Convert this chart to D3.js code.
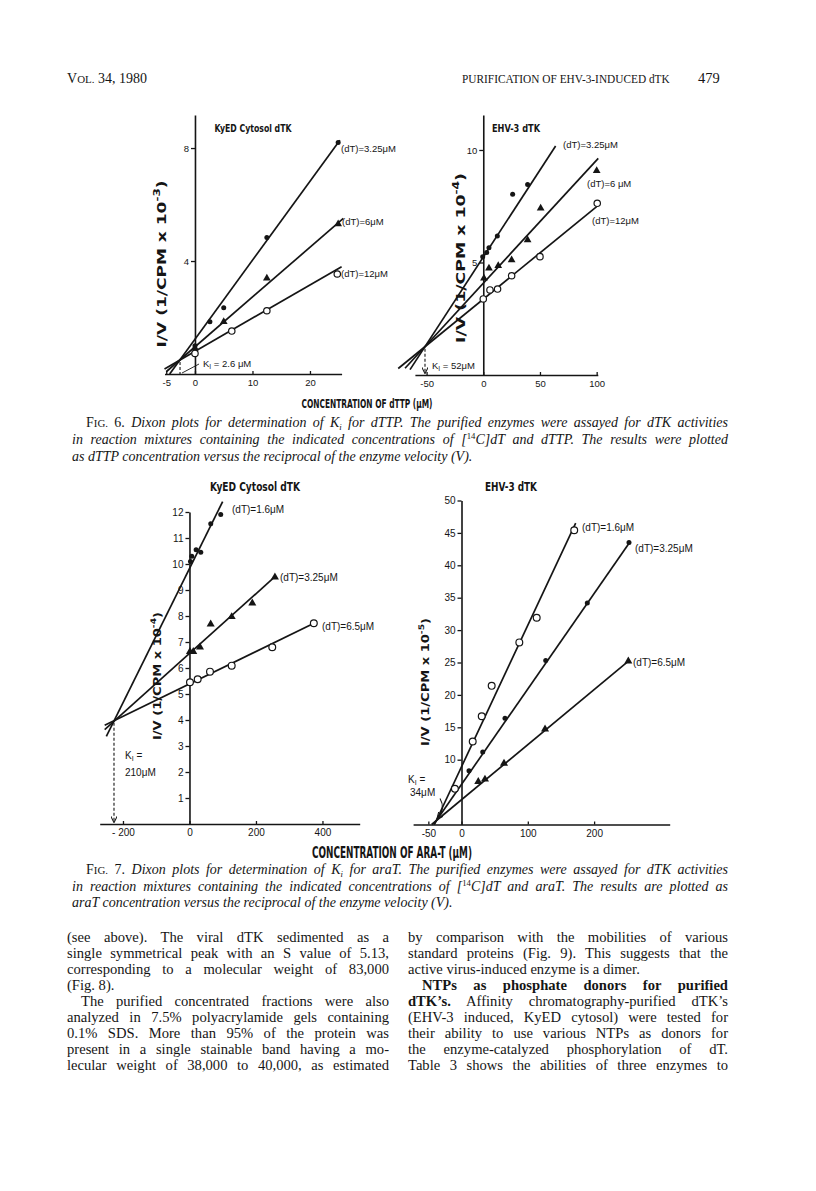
<!DOCTYPE html>
<html>
<head>
<meta charset="utf-8">
<script src="https://cdn.jsdelivr.net/npm/d3@7/dist/d3.min.js"></script>
<style>
  body { margin: 0; background: #fff; }
  svg { display: block; }
</style>
</head>
<body>
<script>
// values (J. Virol. 34, p.479), Dixon plots

// Fig. 6, KyED cytosol dTK : dTTP (uM) vs 1/V (1/CPM x 10^-3)
var f6aClosed = [[0, 1.0], [2.6, 1.85], [5, 2.35], [12.5, 4.83], [24.9, 8.2]];
var f6aTri = [[0, 0.92], [5, 1.85], [12.5, 3.39], [24.9, 5.31]];
var f6aOpen = [[0, 0.73], [6.4, 1.52], [12.5, 2.24], [24.75, 3.54]];
var f6aFits = [[-4.4, 0, 25.2, 8.28], [-5, 0.08, 25.8, 5.51], [-5.3, 0.18, 25.5, 3.8]];
var f6aKi = [-2.6, 0.5];
var f6aXTicks = [-5, 0, 10, 20];
var f6aXLabels = ["-5", "0", "10", "20"];
var f6aYTicks = [4, 8];
var f6aYLabels = ["4", "8"];
var f6aNames = ["(dT)=3.25\u03bcM", "(dT)=6\u03bcM", "(dT)=12\u03bcM"];

// Fig. 6, EHV-3 dTK : dTTP (uM) vs 1/V (1/CPM x 10^-4)
var f6bClosed = [[-0.5, 5.26], [3, 5.44], [5, 5.66], [12.4, 6.18], [25.9, 8.03], [39.1, 8.47]];
var f6bTri = [[0.6, 4.3], [5, 4.74], [13.2, 4.86], [25, 5.11], [39.1, 6.0], [50.6, 7.41], [100, 9.08]];
var f6bOpen = [[0, 3.38], [5.9, 3.78], [12.6, 3.82], [25, 4.41], [50, 5.26], [100.5, 7.63]];
var f6bFits = [[-64.6, 0.24, 63.8, 10.18], [-69, 0.3, 101.4, 9.63], [-75, 0.29, 100, 7.48]];
var f6bKi = [-51.4, 1.26];
var f6bXTicks = [-50, 0, 50, 100];
var f6bXLabels = ["-50", "0", "50", "100"];
var f6bYTicks = [5, 10];
var f6bYLabels = ["5", "10"];
var f6bNames = ["(dT)=3.25\u03bcM", "(dT)=6 \u03bcM", "(dT)=12\u03bcM"];

// Fig. 7, KyED cytosol dTK : araT (uM) vs 1/V (1/CPM x 10^-4)
var f7aClosed = [[3, 10.1], [7, 10.3], [20, 10.55], [34, 10.45], [64, 11.55], [94, 11.9]];
var f7aTri = [[1.5, 6.63], [11.4, 6.63], [31.6, 6.8], [63.8, 7.69], [127, 7.97], [189, 8.49], [257, 9.49]];
var f7aOpen = [[1.5, 5.45], [24.7, 5.57], [61.7, 5.86], [127, 6.09], [249, 6.8], [374, 7.72]];
var f7aFits = [[-250, 3.37, 99.8, 12.4], [-255, 3.63, 257, 9.51], [-255, 3.8, 374.4, 7.72]];
var f7aKi = [-227, 3.97];
var f7aXTicks = [-200, 0, 200, 400];
var f7aXLabels = ["- 200", "0", "200", "400"];
var f7aYTicks = [1, 2, 3, 4, 5, 6, 7, 8, 9, 10, 11, 12];
var f7aYLabels = ["1", "2", "3", "4", "5", "6", "7", "8", "9", "10", "11", "12"];
var f7aNames = ["(dT)=1.6\u03bcM", "(dT)=3.25\u03bcM", "(dT)=6.5\u03bcM"];

// Fig. 7, EHV-3 dTK : araT (uM) vs 1/V (1/CPM x 10^-5)
var f7bOpen = [[-10, 5.5], [16.9, 12.8], [30.5, 16.7], [45.5, 21.4], [87.2, 28.1], [113.4, 31.9], [170, 45.4]];
var f7bClosed = [[11.3, 8.3], [32, 11.2], [65.6, 16.4], [127, 25.3], [189.7, 34.2], [252.6, 43.5]];
var f7bTri = [[25.3, 6.6], [35.4, 6.98], [64.1, 9.44], [126, 14.7], [251.6, 25.2]];
var f7bFits = [[-40.8, 0, 172.2, 46.5], [-42, 0, 254, 43.6], [-45, 0, 254, 25.4]];
var f7bKi = [-38, 0.6];
var f7bXTicks = [-50, 0, 100, 200];
var f7bXLabels = ["-50", "0", "100", "200"];
var f7bYTicks = [10, 15, 20, 25, 30, 35, 40, 45, 50];
var f7bYLabels = ["10", "15", "20", "25", "30", "35", "40", "45", "50"];
var f7bNames = ["(dT)=1.6\u03bcM", "(dT)=3.25\u03bcM", "(dT)=6.5\u03bcM"];

var ink = "#151515";
var serif = "'Liberation Serif', 'DejaVu Serif', serif";
var sans = "'Liberation Sans', Arial, sans-serif";
var narrow = "'Liberation Sans Narrow', 'DejaVu Sans Condensed', 'Liberation Sans', sans-serif";

var svg = d3.select("body").append("svg")
  .attr("width", 816)
  .attr("height", 1191);

svg.append("rect").attr("width", 816).attr("height", 1191).attr("fill", "#fff");

svg.append("defs").append("marker")
  .attr("id", "arr")
  .attr("viewBox", "0 0 10 10")
  .attr("refX", 9).attr("refY", 5)
  .attr("markerWidth", 6).attr("markerHeight", 6)
  .attr("orient", "auto")
  .append("path")
  .attr("d", "M0,0 L10,5 L0,10")
  .attr("fill", "none")
  .attr("stroke", ink)
  .attr("stroke-width", 1.6);

// bold condensed label, squeezed to the width seen on the scan
function squeezed(parent, txt, cx, cy, size, width, sup) {
  var t = parent.append("text")
    .attr("x", cx).attr("y", cy)
    .attr("text-anchor", "middle")
    .attr("font-family", narrow)
    .attr("font-weight", "bold")
    .attr("font-size", size)
    .attr("fill", ink);
  t.append("tspan").text(txt);
  if (sup) {
    t.append("tspan").attr("dy", -size * 0.4).attr("font-size", size * 0.7).text(sup);
    t.append("tspan").attr("dy", size * 0.4).text(")");
  }
  t.attr("textLength", width).attr("lengthAdjust", "spacingAndGlyphs");
  return t;
}

function drawPanel(p) {
  var x = d3.scaleLinear().domain(p.xDomain).range(p.xRange);
  var y = d3.scaleLinear().domain(p.yDomain).range(p.yRange);
  var g = svg.append("g");

  var xa = g.append("g")
    .attr("transform", "translate(0," + y(0) + ")")
    .call(d3.axisBottom(x).tickValues(p.xTicks).tickSize(-3).tickSizeOuter(0).tickPadding(p.xPad)
      .tickFormat(function(d, i) { return p.xLabels[i]; }));
  var ya = g.append("g")
    .attr("transform", "translate(" + x(0) + ",0)")
    .call(d3.axisLeft(y).tickValues(p.yTicks).tickSize(4).tickSizeOuter(0).tickPadding(2)
      .tickFormat(function(d, i) { return p.yLabels[i]; }));
  [xa, ya].forEach(function(a) {
    a.attr("font-family", sans).attr("font-size", p.tickFont);
    a.select(".domain").attr("stroke", ink).attr("stroke-width", 1.6);
    a.selectAll(".tick line").attr("stroke", ink).attr("stroke-width", 1.3);
    a.selectAll(".tick text").attr("fill", ink);
  });

  // Ki construction
  if (p.kiDashed) {
    g.append("line")
      .attr("x1", x(p.ki[0])).attr("y1", y(p.ki[1]) + 2)
      .attr("x2", x(p.ki[0])).attr("y2", y(0) - (p.kiArrow ? 2 : 0))
      .attr("stroke", ink).attr("stroke-width", 1.1)
      .attr("stroke-dasharray", "3,2")
      .attr("marker-end", p.kiArrow ? "url(#arr)" : null);
  }

  g.selectAll(null).data(p.fits).enter().append("line")
    .attr("x1", function(d) { return x(d[0]); })
    .attr("y1", function(d) { return y(d[1]); })
    .attr("x2", function(d) { return x(d[2]); })
    .attr("y2", function(d) { return y(d[3]); })
    .attr("stroke", ink)
    .attr("stroke-width", 1.7);

  p.series.forEach(function(s) {
    var sel = g.selectAll(null).data(s.pts).enter();
    if (s.kind === "tri") {
      sel.append("path")
        .attr("d", d3.symbol(d3.symbolTriangle, p.triSize))
        .attr("transform", function(d) { return "translate(" + x(d[0]) + "," + y(d[1]) + ")"; })
        .attr("fill", ink);
    } else {
      sel.append("circle")
        .attr("cx", function(d) { return x(d[0]); })
        .attr("cy", function(d) { return y(d[1]); })
        .attr("r", s.kind === "open" ? p.openR : p.dotR)
        .attr("fill", s.kind === "open" ? "#fff" : ink)
        .attr("stroke", ink)
        .attr("stroke-width", s.kind === "open" ? 1.2 : 0);
    }
  });

  p.names.forEach(function(n, i) {
    g.append("text")
      .attr("x", p.nameAt[i][0]).attr("y", p.nameAt[i][1])
      .attr("font-family", sans).attr("font-size", p.nameFont)
      .attr("fill", ink)
      .text(n);
  });

  p.kiText.forEach(function(k) {
    var t = g.append("text")
      .attr("x", k.at[0]).attr("y", k.at[1])
      .attr("font-family", sans).attr("font-size", p.nameFont)
      .attr("fill", ink);
    if (k.sub) {
      t.append("tspan").text("K");
      t.append("tspan").attr("dy", 2).attr("font-size", p.nameFont * 0.7).text("I");
      t.append("tspan").attr("dy", -2).text(k.txt);
    } else {
      t.text(k.txt);
    }
  });

  squeezed(g, p.title, p.titleAt[0], p.titleAt[1], p.titleFont, p.titleW);

  var yl = squeezed(g, "I/V (1/CPM x 10", p.yLabAt[0], p.yLabAt[1], p.yLabFont, p.yLabW, p.yLabSup);
  yl.attr("transform", "rotate(-90," + p.yLabAt[0] + "," + p.yLabAt[1] + ")")
    .attr("dominant-baseline", "middle");

  return { x: x, y: y, g: g };
}

var pa = drawPanel({
  xDomain: [-5.3, 25.5], xRange: [164.5, 341.6], yDomain: [0, 9.17], yRange: [374, 115],
  xTicks: f6aXTicks, xLabels: f6aXLabels, yTicks: f6aYTicks, yLabels: f6aYLabels,
  xPad: 5, tickFont: 9.5, fits: f6aFits, ki: f6aKi, kiDashed: true, kiArrow: false,
  series: [{ pts: f6aClosed, kind: "dot" }, { pts: f6aTri, kind: "tri" }, { pts: f6aOpen, kind: "open" }],
  dotR: 2.5, openR: 3.2, triSize: 26,
  names: f6aNames, nameAt: [[341, 152], [342, 225], [341, 277]], nameFont: 9.5,
  kiText: [{ txt: " = 2.6 \u03bcM", sub: true, at: [203, 367] }],
  title: "KyED Cytosol dTK", titleAt: [253, 132], titleFont: 11, titleW: 77,
  yLabAt: [162, 264], yLabFont: 12.5, yLabW: 167, yLabSup: "-3"
});
// short leader from the Ki foot to its label
pa.g.append("line")
  .attr("x1", pa.x(f6aKi[0]) + 2).attr("y1", pa.y(0) - 1)
  .attr("x2", pa.x(f6aKi[0]) + 19).attr("y2", pa.y(0) - 10)
  .attr("stroke", ink).attr("stroke-width", 0.9);

drawPanel({
  xDomain: [-60.3, 101], xRange: [414.9, 597.8], yDomain: [0, 11.55], yRange: [375, 115.1],
  xTicks: f6bXTicks, xLabels: f6bXLabels, yTicks: f6bYTicks, yLabels: f6bYLabels,
  xPad: 5, tickFont: 9.5, fits: f6bFits, ki: f6bKi, kiDashed: true, kiArrow: true,
  series: [{ pts: f6bClosed, kind: "dot" }, { pts: f6bTri, kind: "tri" }, { pts: f6bOpen, kind: "open" }],
  dotR: 2.5, openR: 3.2, triSize: 26,
  names: f6bNames, nameAt: [[563, 148], [587, 187], [592, 224]], nameFont: 9.5,
  kiText: [{ txt: " = 52\u03bcM", sub: true, at: [432, 369] }],
  title: "EHV-3 dTK", titleAt: [516, 132], titleFont: 11, titleW: 48,
  yLabAt: [461, 258], yLabFont: 12.5, yLabW: 170, yLabSup: "-4"
});

drawPanel({
  xDomain: [-270, 512], xRange: [99.7, 359.7], yDomain: [0, 12], yRange: [824, 512],
  xTicks: f7aXTicks, xLabels: f7aXLabels, yTicks: f7aYTicks, yLabels: f7aYLabels,
  xPad: 5, tickFont: 10, fits: f7aFits, ki: f7aKi, kiDashed: true, kiArrow: true,
  series: [{ pts: f7aClosed, kind: "dot" }, { pts: f7aTri, kind: "tri" }, { pts: f7aOpen, kind: "open" }],
  dotR: 2.5, openR: 3.4, triSize: 28,
  names: f7aNames, nameAt: [[232, 513], [280, 581], [322, 629.5]], nameFont: 10,
  kiText: [{ txt: " =", sub: true, at: [125, 759] }, { txt: "210\u03bcM", at: [125, 776] }],
  title: "KyED Cytosol dTK", titleAt: [255, 491], titleFont: 13, titleW: 90,
  yLabAt: [158, 676], yLabFont: 11, yLabW: 128, yLabSup: "-4"
});

var pd = drawPanel({
  xDomain: [-73, 314], xRange: [413.1, 669.7], yDomain: [0, 50], yRange: [824.5, 500.5],
  xTicks: f7bXTicks, xLabels: f7bXLabels, yTicks: f7bYTicks, yLabels: f7bYLabels,
  xPad: 5, tickFont: 10, fits: f7bFits, ki: f7bKi, kiDashed: false,
  series: [{ pts: f7bClosed, kind: "dot" }, { pts: f7bTri, kind: "tri" }, { pts: f7bOpen, kind: "open" }],
  dotR: 2.5, openR: 3.4, triSize: 28,
  names: f7bNames, nameAt: [[582, 530.5], [635, 552], [633, 665.5]], nameFont: 10,
  kiText: [{ txt: " =", sub: true, at: [408, 783] }, { txt: "34\u03bcM", at: [410, 796] }],
  title: "EHV-3 dTK", titleAt: [511, 491], titleFont: 13, titleW: 52,
  yLabAt: [426, 682], yLabFont: 11, yLabW: 128, yLabSup: "-5"
});
// curved pointer from "34uM" to the common intersection
pd.g.append("path")
  .attr("d", "M440," + (pd.y(0) - 26) + " Q446," + (pd.y(0) - 16) + " " + (pd.x(f7bKi[0]) + 1) + "," + (pd.y(f7bKi[1]) - 2))
  .attr("fill", "none").attr("stroke", ink).attr("stroke-width", 1.1)
  .attr("marker-end", "url(#arr)");

squeezed(svg, "CONCENTRATION OF dTTP (\u03bcM)", 367, 408, 12.5, 131);
squeezed(svg, "CONCENTRATION OF ARA-T (\u03bcM)", 392, 858, 15, 160);

// ---- page text ----
function justify(t, width) {
  var n = t.node();
  var w = n.getComputedTextLength();
  var gaps = (n.textContent.match(/ /g) || []).length;
  if (w < width && gaps) t.attr("word-spacing", (width - w) / gaps);
  else if (w > width) t.attr("textLength", width).attr("lengthAdjust", "spacingAndGlyphs");
}

// segs: [text, style] with style among "", "i", "b", "sup", "sub", "sc"
function line(x, yb, size, segs, width) {
  var t = svg.append("text")
    .attr("x", x).attr("y", yb)
    .attr("font-family", serif).attr("font-size", size)
    .attr("fill", ink);
  var shift = 0;
  segs.forEach(function(s) {
    var ts = t.append("tspan").text(s[0]);
    var st = s[1] || "";
    var want = st === "sup" ? -size * 0.35 : st === "sub" ? size * 0.2 : 0;
    if (want !== shift) { ts.attr("dy", want - shift); shift = want; }
    if (st.indexOf("i") >= 0) ts.attr("font-style", "italic");
    if (st === "b") ts.attr("font-weight", "bold");
    if (st === "sup" || st === "sub" || st === "sc") ts.attr("font-size", size * (st === "sc" ? 0.78 : 0.62));
    if ((st === "sup" || st === "sub") && s[2]) ts.attr("font-style", "italic");
  });
  if (width) justify(t, width);
  return t;
}

// running head
line(67, 83, 14, [["V"], ["OL.", "sc"], [" 34, 1980"]]);
var head = svg.append("text")
  .attr("font-family", serif).attr("font-size", 13)
  .attr("fill", ink)
  .text("PURIFICATION OF EHV-3-INDUCED dTK");
var headW = head.node().getComputedTextLength();
head.attr("transform", "translate(462,83) scale(" + (208 / headW) + ",1)");
line(698, 83, 14.5, [["479"]]);

var capSize = 14;
var fig6Cap = [
  [["F"], ["IG.", "sc"], [" 6. "], ["Dixon plots for determination of K", "i"], ["i", "sub", true], [" for dTTP. The purified enzymes were assayed for dTK activities", "i"]],
  [["in reaction mixtures containing the indicated concentrations of [", "i"], ["14", "sup"], ["C]dT and dTTP. The results were plotted", "i"]],
  [["as dTTP concentration versus the reciprocal of the enzyme velocity (V).", "i"]]
];
var fig7Cap = [
  [["F"], ["IG.", "sc"], [" 7. "], ["Dixon plots for determination of K", "i"], ["i", "sub", true], [" for araT. The purified enzymes were assayed for dTK activities", "i"]],
  [["in reaction mixtures containing the indicated concentrations of [", "i"], ["14", "sup"], ["C]dT and araT. The results are plotted as", "i"]],
  [["araT concentration versus the reciprocal of the enzyme velocity (V).", "i"]]
];
var cap6Y = [427, 444, 461];
var cap7Y = [874, 891, 907];
fig6Cap.forEach(function(segs, i) {
  line(i === 0 ? 86 : 72, cap6Y[i], capSize, segs, i === 2 ? null : (i === 0 ? 642 : 656));
});
fig7Cap.forEach(function(segs, i) {
  line(i === 0 ? 86 : 72, cap7Y[i], capSize, segs, i === 2 ? null : (i === 0 ? 642 : 656));
});

var leftCol = [
  [["(see above). The viral dTK sedimented as a"]],
  [["single symmetrical peak with an S value of 5.13,"]],
  [["corresponding to a molecular weight of 83,000"]],
  [["(Fig. 8)."]],
  [["The purified concentrated fractions were also"]],
  [["analyzed in 7.5% polyacrylamide gels containing"]],
  [["0.1% SDS. More than 95% of the protein was"]],
  [["present in a single stainable band having a mo-"]],
  [["lecular weight of 38,000 to 40,000, as estimated"]]
];
var rightCol = [
  [["by comparison with the mobilities of various"]],
  [["standard proteins (Fig. 9). This suggests that the"]],
  [["active virus-induced enzyme is a dimer."]],
  [["NTPs as phosphate donors for purified", "b"]],
  [["dTK\u2019s.", "b"], [" Affinity chromatography-purified dTK\u2019s"]],
  [["(EHV-3 induced, KyED cytosol) were tested for"]],
  [["their ability to use various NTPs as donors for"]],
  [["the enzyme-catalyzed phosphorylation of dT."]],
  [["Table 3 shows the abilities of three enzymes to"]]
];
var leftIndent = [4], leftLast = [3];
var rightIndent = [3], rightLast = [2];
var bodySize = 14.6;
leftCol.forEach(function(segs, i) {
  var ind = leftIndent.indexOf(i) >= 0 ? 14 : 0;
  line(67 + ind, 941.5 + 16 * i, bodySize, segs, leftLast.indexOf(i) >= 0 ? null : 322 - ind);
});
rightCol.forEach(function(segs, i) {
  var ind = rightIndent.indexOf(i) >= 0 ? 14 : 0;
  line(408 + ind, 941.5 + 16 * i, bodySize, segs, rightLast.indexOf(i) >= 0 ? null : 320 - ind);
});
</script>
</body>
</html>
